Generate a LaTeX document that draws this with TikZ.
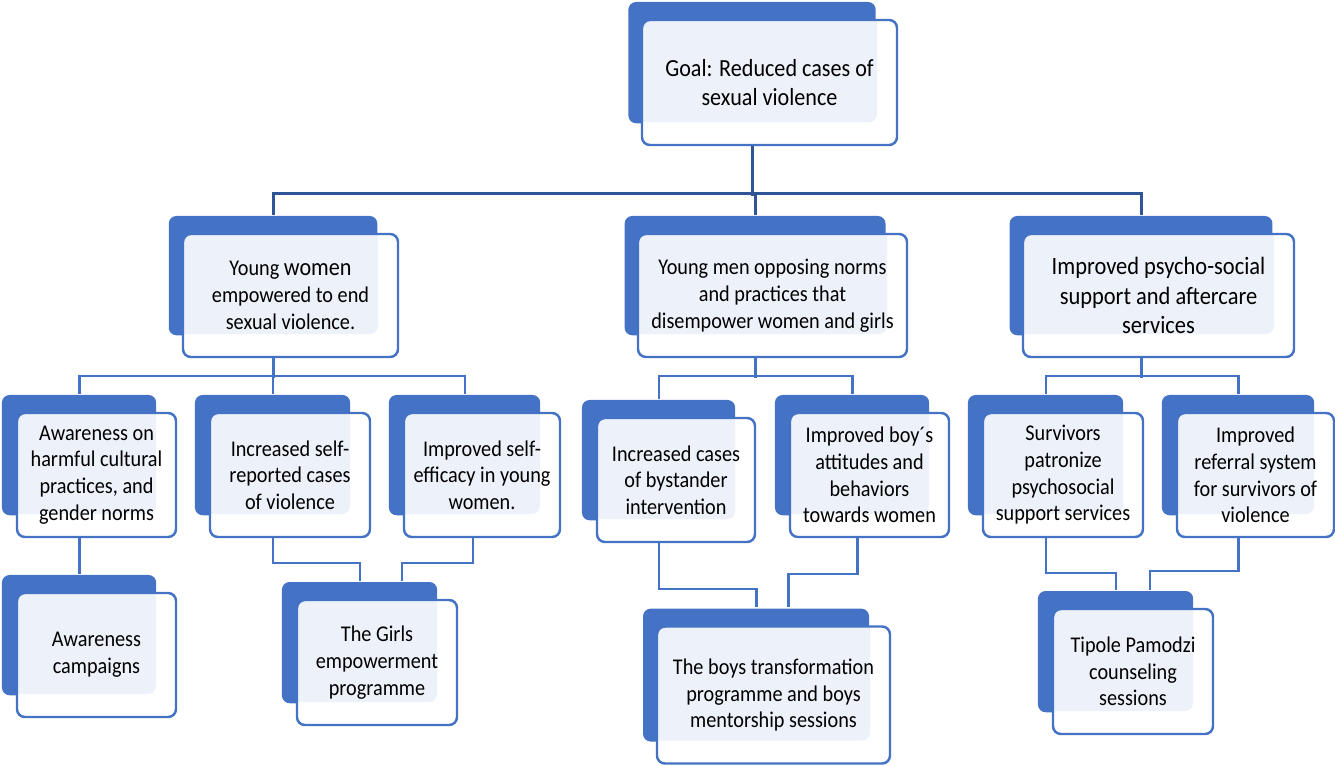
\documentclass[tikz,border=0pt]{standalone}
\usepackage{fontspec}
\setmainfont{Carlito}[FakeStretch=0.9]
\usetikzlibrary{positioning,shadows}
\definecolor{svazul}{HTML}{4472C4}
\definecolor{svazulescuro}{HTML}{2F5597}
\definecolor{svazulclaro}{HTML}{EDF1F9}
\tikzset{
  svcaixa/.style={draw=svazul, fill=white, line width=1.4pt, rounded corners=4.5pt,
                  align=center, inner sep=2pt, font=\fontsize{12.8}{15.2}\selectfont,
                  general shadow={fill=svazul, shadow scale=0.97, shadow xshift=-0.36cm, shadow yshift=0.41cm},
                  path picture={\fill[svazulclaro, rounded corners=4.5pt]
                    ([shift={(-1cm,1cm)}]path picture bounding box.north west) rectangle
                    ([shift={(-0.40cm,0.46cm)}]path picture bounding box.south east);}},
  svtam/.style 2 args={minimum width=#1*0.02cm, minimum height=#2*0.02cm},
  svlinha/.style={draw=svazul, line width=1.4pt},
  svlinhaforte/.style={draw=svazulescuro, line width=1.5pt},
}
\begin{document}
\begin{tikzpicture}[x=0.02cm, y=-0.02cm]
  \useasboundingbox (0,0) rectangle (1335,765);
  \node[svcaixa, svtam={255}{125}, font=\fontsize{14}{16}\selectfont] (goal) at (769.5,82.5) {Goal: Reduced cases of\\sexual violence};
  \node[svcaixa, svtam={215}{123}] (women) at (290.5,295.5) {Young {\fontsize{14}{15.2}\selectfont women}\\empowered to end\\sexual violence.};
  \node[svcaixa, svtam={269}{123}] (men) at (772.5,295.5) {Young men opposing norms\\and practices that\\disempower women and girls};
  \node[svcaixa, svtam={271}{123}, font=\fontsize{14.2}{17}\selectfont] (support) at (1158.5,295.5) {Improved psycho-social\\support and aftercare\\services};
  \node[svcaixa, svtam={159}{124}] (aware) at (96.5,475) {Awareness on\\harmful cultural\\practices, and\\gender norms};
  \node[svcaixa, svtam={160}{124}] (selfrep) at (290,475) {Increased self-\\reported cases\\of violence};
  \node[svcaixa, svtam={156}{124}] (efficacy) at (482,475) {Improved self-\\efficacy in young\\women.};
  \node[svcaixa, svtam={158}{124}] (bystander) at (676,480) {Increased cases\\of bystander\\intervention};
  \node[svcaixa, svtam={159}{124}] (attitudes) at (869.5,475) {Improved boy´s\\attitudes and\\behaviors\\towards women};
  \node[svcaixa, svtam={160}{124}] (survivors) at (1063,475) {Survivors\\patronize\\psychosocial\\support services};
  \node[svcaixa, svtam={157}{124}] (referral) at (1255.5,475) {Improved\\referral system\\for survivors of\\violence};
  \node[svcaixa, svtam={159}{124}] (campaigns) at (96.5,655) {Awareness\\campaigns};
  \node[svcaixa, svtam={160}{125}] (girls) at (377,662.5) {The Girls\\empowerment\\programme};
  \node[svcaixa, svtam={233}{137}] (boys) at (773.5,695) {The boys transformation\\programme and boys\\mentorship sessions};
  \node[svcaixa, svtam={160}{125}] (tipole) at (1133,671.5) {Tipole Pamodzi\\counseling\\sessions};
  \foreach \n in {goal,women,men,support,aware,selfrep,efficacy,bystander,attitudes,survivors,referral,campaigns,girls,boys,tipole}{
    \coordinate (\n-t) at ([shift={(-0.34cm,0.36cm)}]\n.north);
    \coordinate (\n-b) at ([xshift=-0.34cm]\n.south);
  }
  \coordinate (efficacy-b) at ([xshift=-0.18cm]efficacy.south);
  \coordinate (attitudes-b) at ([xshift=-0.24cm]attitudes.south);
  \coordinate (girls-t2) at ([xshift=0.84cm]girls-t);
  \coordinate (boys-t2) at ([xshift=0.64cm]boys-t);
  \coordinate (tipole-t2) at ([xshift=0.68cm]tipole-t);
  \draw[svlinhaforte] (goal-b) -- ++(0,50);
  \draw[svlinhaforte] (women-t) -- ++(0,-21) -| (support-t);
  \draw[svlinhaforte] (men-t) -- ++(0,-21);
  \draw[svlinha] (women-b) -- ++(0,20);
  \draw[svlinha] (aware-t) -- ++(0,-18) -| (efficacy-t);
  \draw[svlinha] (selfrep-t) -- ++(0,-18);
  \draw[svlinha] (men-b) -- ++(0,20);
  \draw[svlinha] (bystander-t) -- ++(0,-23) -| (attitudes-t);
  \draw[svlinha] (support-b) -- ++(0,20);
  \draw[svlinha] (survivors-t) -- ++(0,-18) -| (referral-t);
  \draw[svlinha] (aware-b) -- (campaigns-t);
  \draw[svlinha] (selfrep-b) -- ++(0,25) -| (girls-t);
  \draw[svlinha] (efficacy-b) -- ++(0,25) -| (girls-t2);
  \draw[svlinha] (bystander-b) -- ++(0,46) -| (boys-t);
  \draw[svlinha] (attitudes-b) -- ++(0,36) -| (boys-t2);
  \draw[svlinha] (survivors-b) -- ++(0,35) -| (tipole-t);
  \draw[svlinha] (referral-b) -- ++(0,33) -| (tipole-t2);
\end{tikzpicture}
\end{document}
